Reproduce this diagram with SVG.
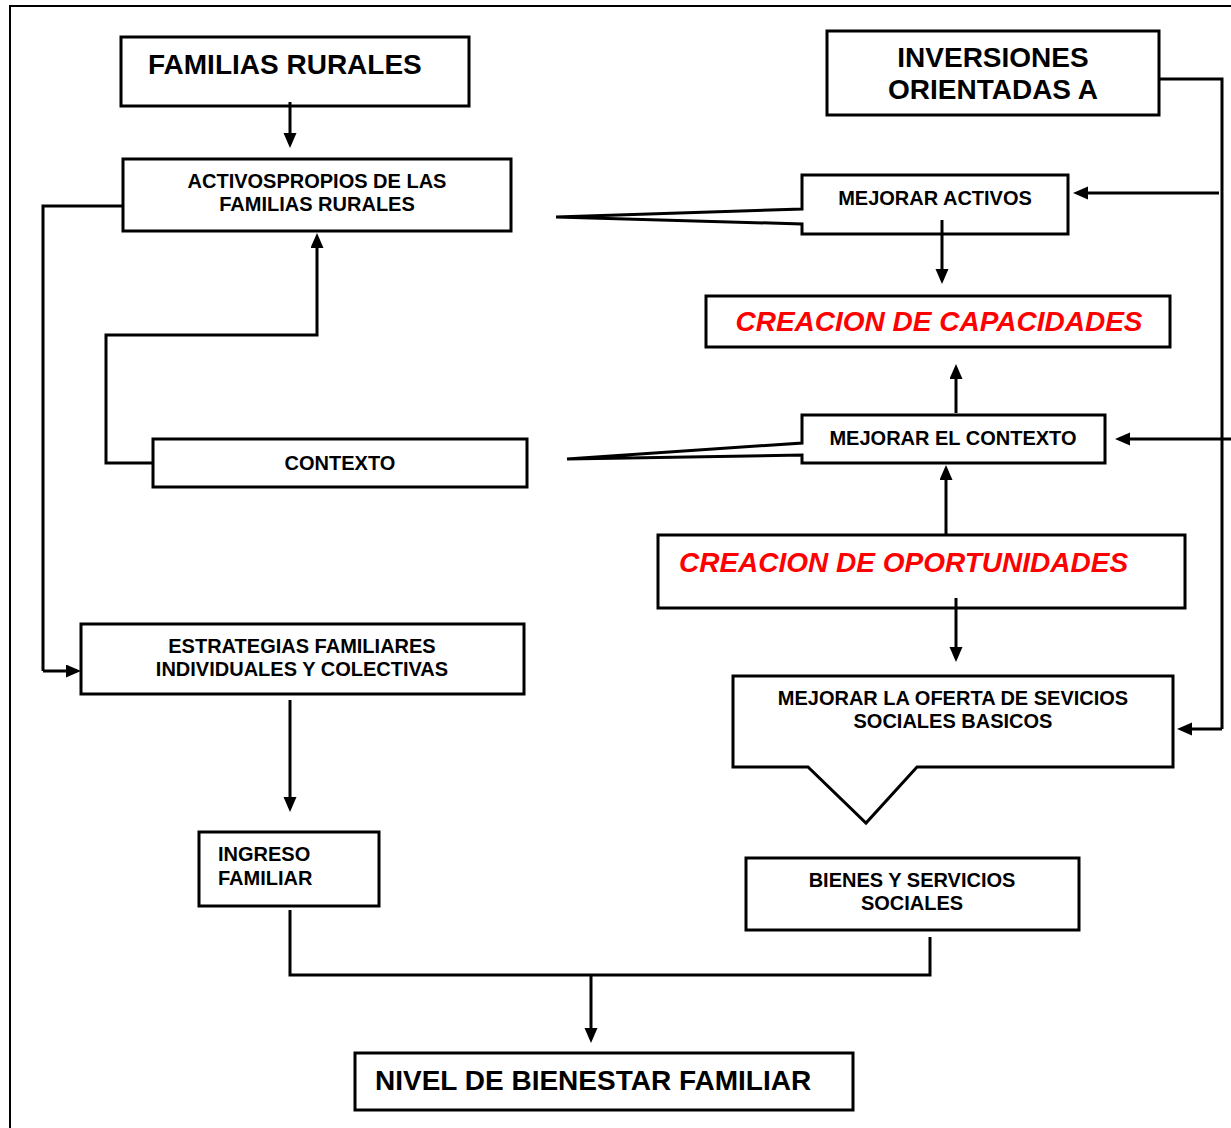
<svg xmlns="http://www.w3.org/2000/svg" width="1231" height="1128" viewBox="0 0 1231 1128">
  <defs>
    <marker id="arrow" markerUnits="userSpaceOnUse" markerWidth="16" markerHeight="14" refX="11" refY="6.5" orient="auto">
      <path d="M0,0 L15,6.5 L0,13 Z" fill="#000"/>
    </marker>
    <style>
      .box { fill: #fff; stroke: #000; stroke-width: 3; }
      .frame { fill: none; stroke: #000; stroke-width: 2; }
      .wire { fill: none; stroke: #000; stroke-width: 3; }
      .arr { marker-end: url(#arrow); }
      text { font-family: "Liberation Sans", Arial, sans-serif; font-weight: bold; fill: #000; }
      .big { font-size: 28px; }
      .small { font-size: 20px; }
      .red { font-size: 28px; font-style: italic; fill: #ff0000; }
      .mid { text-anchor: middle; }
    </style>
  </defs>

  <rect x="0" y="0" width="1231" height="1128" fill="#fff"/>
  <rect class="frame" x="10" y="6" width="1240" height="1140"/>

  <!-- left column -->
  <g id="familias-rurales">
    <rect class="box" x="121" y="37" width="348" height="69"/>
    <text class="big" x="148" y="74">FAMILIAS RURALES</text>
  </g>

  <g id="activos-propios">
    <rect class="box" x="123" y="159" width="388" height="72"/>
    <text class="small mid" x="317" y="188">ACTIVOSPROPIOS DE LAS</text>
    <text class="small mid" x="317" y="211">FAMILIAS RURALES</text>
  </g>

  <g id="contexto">
    <rect class="box" x="153" y="439" width="374" height="48"/>
    <text class="small mid" x="340" y="470">CONTEXTO</text>
  </g>

  <g id="estrategias">
    <rect class="box" x="81" y="624" width="443" height="70"/>
    <text class="small mid" x="302" y="653">ESTRATEGIAS FAMILIARES</text>
    <text class="small mid" x="302" y="676">INDIVIDUALES Y COLECTIVAS</text>
  </g>

  <g id="ingreso-familiar">
    <rect class="box" x="199" y="832" width="180" height="74"/>
    <text class="small" x="218" y="861">INGRESO</text>
    <text class="small" x="218" y="885">FAMILIAR</text>
  </g>

  <g id="nivel-bienestar">
    <rect class="box" x="355" y="1053" width="498" height="57"/>
    <text class="big" x="375" y="1090">NIVEL DE BIENESTAR FAMILIAR</text>
  </g>

  <!-- right column -->
  <g id="inversiones">
    <rect class="box" x="827" y="31" width="332" height="84"/>
    <text class="big mid" x="993" y="67">INVERSIONES</text>
    <text class="big mid" x="993" y="99">ORIENTADAS A</text>
  </g>

  <g id="mejorar-activos">
    <path class="box" d="M802,175 H1068 V234 H802 V224 L556,217 L802,209 Z"/>
    <text class="small mid" x="935" y="205">MEJORAR ACTIVOS</text>
  </g>

  <g id="creacion-capacidades">
    <rect class="box" x="706" y="296" width="464" height="51"/>
    <text class="red mid" x="939" y="331">CREACION DE CAPACIDADES</text>
  </g>

  <g id="mejorar-contexto">
    <path class="box" d="M802,415 H1105 V463 H802 V455 L567,459 L802,443 Z"/>
    <text class="small mid" x="953" y="445">MEJORAR EL CONTEXTO</text>
  </g>

  <g id="creacion-oportunidades">
    <rect class="box" x="658" y="535" width="527" height="73"/>
    <text class="red" x="679" y="572">CREACION DE OPORTUNIDADES</text>
  </g>

  <g id="mejorar-oferta">
    <path class="box" d="M733,676 H1173 V767 H917 L866,823 L808,767 H733 Z"/>
    <text class="small mid" x="953" y="705">MEJORAR LA OFERTA DE SEVICIOS</text>
    <text class="small mid" x="953" y="728">SOCIALES BASICOS</text>
  </g>

  <g id="bienes-servicios">
    <rect class="box" x="746" y="858" width="333" height="72"/>
    <text class="small mid" x="912" y="887">BIENES Y SERVICIOS</text>
    <text class="small mid" x="912" y="910">SOCIALES</text>
  </g>

  <!-- connectors, drawn over the boxes so stubs starting inside a box stay visible -->
  <g id="connectors">
    <path class="wire arr" d="M290,102 V144"/>
    <path class="wire" d="M123,206 H43 V671"/>
    <path class="wire arr" d="M43,671 H77"/>
    <path class="wire arr" d="M153,463 H106 V335 H317 V237"/>
    <path class="wire arr" d="M290,700 V808"/>
    <path class="wire" d="M290,910 V975 H930 V937"/>
    <path class="wire arr" d="M591,975 V1039"/>
    <path class="wire" d="M1159,79 H1222 V729"/>
    <path class="wire arr" d="M1222,729 H1181"/>
    <path class="wire arr" d="M1219,193 H1077"/>
    <path class="wire arr" d="M1231,439 H1119"/>
    <path class="wire arr" d="M942,220 V280"/>
    <path class="wire arr" d="M956,413 V368"/>
    <path class="wire arr" d="M946,535 V469"/>
    <path class="wire arr" d="M956,598 V658"/>
  </g>
</svg>
